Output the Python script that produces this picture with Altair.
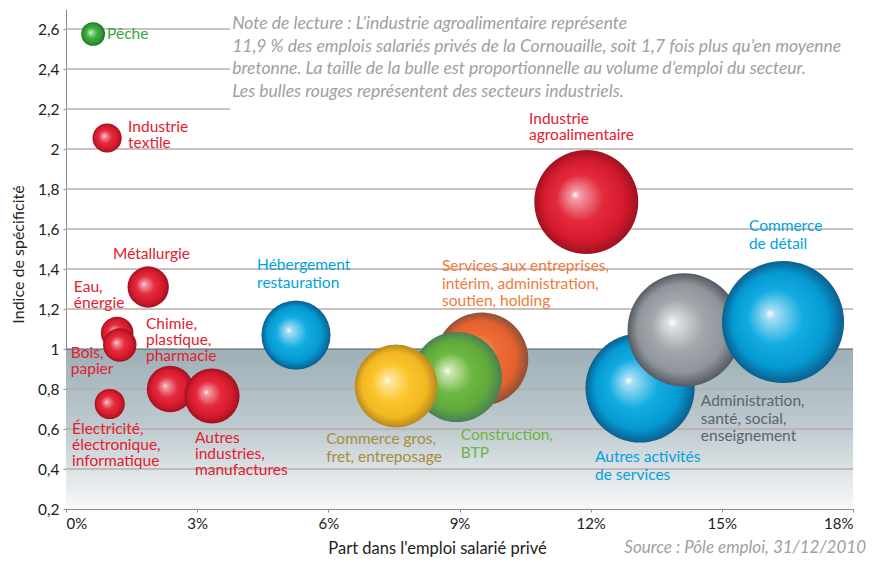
import altair as alt
import pandas as pd

# ---------------- data ----------------
secteurs = [
    "Eau, énergie", "Bois, papier", "Électricité, électronique, informatique",
    "Métallurgie", "Chimie, plastique, pharmacie", "Autres industries, manufactures",
    "Industrie textile", "Pêche", "Hébergement restauration",
    "Services aux entreprises, intérim, administration, soutien, holding",
    "Construction, BTP", "Commerce gros, fret, entreposage",
    "Industrie agroalimentaire", "Autres activités de services",
    "Administration, santé, social, enseignement", "Commerce de détail",
]
part = [1.17, 1.23, 1.00, 1.88, 2.38, 3.34, 0.94, 0.62, 5.26,
        9.51, 8.94, 7.55, 11.9, 13.13, 14.14, 16.4]
indice = [1.08, 1.02, 0.725, 1.31, 0.80, 0.765, 2.055, 2.575, 1.07,
          0.95, 0.86, 0.815, 1.735, 0.805, 1.095, 1.135]
famille = ["rouge", "rouge", "rouge", "rouge", "rouge", "rouge", "rouge", "peche", "bleu",
           "orange", "vert", "jaune", "rouge", "bleu", "gris", "bleu"]

label_texte = [
    "Pêche", "Industrie\ntextile", "Métallurgie", "Eau,\nénergie",
    "Chimie,\nplastique,\npharmacie", "Bois,\npapier",
    "Électricité,\nélectronique,\ninformatique", "Autres\nindustries,\nmanufactures",
    "Industrie\nagroalimentaire",
    "Hébergement\nrestauration",
    "Services aux entreprises,\nintérim, administration,\nsoutien, holding",
    "Commerce gros,\nfret, entreposage", "Construction,\nBTP",
    "Autres activités\nde services", "Administration,\nsanté, social,\nenseignement",
    "Commerce\nde détail",
]
label_x = [0.94, 1.42, 1.075, 0.18, 1.83, 0.11, 0.14, 2.95, 10.59,
           4.37, 8.6, 5.95, 9.03, 12.1, 14.52, 15.62]
label_y = [2.61, 2.145, 1.51, 1.345, 1.16, 1.015, 0.635, 0.59, 2.185,
           1.455, 1.45, 0.585, 0.605, 0.495, 0.775, 1.65]
label_famille = ["peche", "rouge", "rouge", "rouge", "rouge", "rouge", "rouge", "rouge", "rouge",
                 "bleu", "orange", "jaune", "vert", "bleu", "gris", "bleu"]

grille_y = [0.4, 0.6, 0.8, 1.2, 1.4, 1.6, 1.8, 2.0, 2.2, 2.4, 2.6]
grille_fin = [18, 18, 18, 18, 18, 18, 18, 18, 3.75, 3.75, 3.75]

x_ticks = [0, 3, 6, 9, 12, 15, 18]
y_ticks = [0.2, 0.4, 0.6, 0.8, 1.0, 1.2, 1.4, 1.6, 1.8, 2.0, 2.2, 2.4, 2.6]

note = ("Note de lecture : L’industrie agroalimentaire représente\n"
        "11,9 % des emplois salariés privés de la Cornouaille, soit 1,7 fois plus qu’en moyenne\n"
        "bretonne. La taille de la bulle est proportionnelle au volume d’emploi du secteur.\n"
        "Les bulles rouges représentent des secteurs industriels.")
source = "Source : Pôle emploi, 31/12/2010"

# ---------------- styles ----------------
FONT = "Lato"
sphere_stops = {
    "rouge": ["#ffffff", "#f2a0aa", "#e42a3c", "#d41a2c", "#9e1220"],
    "peche": ["#ffffff", "#b6e0b0", "#3fae40", "#2f9a35", "#1f6e26"],
    "bleu": ["#ffffff", "#a6def4", "#12ace2", "#0599d2", "#0b5f8f"],
    "orange": ["#ffffff", "#f7c0a0", "#f06c35", "#e4612e", "#8e4f3a"],
    "vert": ["#ffffff", "#cfe8b5", "#6db842", "#5fa83c", "#4b7f55"],
    "jaune": ["#ffffff", "#fde7a0", "#fbc52c", "#f2b722", "#b8891c"],
    "gris": ["#ffffff", "#dfe2e5", "#a2a7ac", "#8f959b", "#545a60"],
}
offsets = [0.0, 0.08, 0.45, 0.78, 1.0]

text_colors = {
    "rouge": "#e2202e", "peche": "#36a939", "bleu": "#00a2dd", "orange": "#f07a3a",
    "jaune": "#a88c3c", "vert": "#6bb542", "gris": "#5c646b",
}

xscale = alt.Scale(domain=[0, 18], nice=False, zero=False)
yscale = alt.Scale(domain=[0.2, 2.7], nice=False, zero=False)

xaxis = alt.Axis(
    values=x_ticks, labelExpr="datum.value + '%'", grid=False,
    domainColor="#8c8c8c", tickColor="#8c8c8c", tickSize=3,
    labelFont=FONT, labelFontSize=15, labelColor="#222222", labelPadding=4,
    title="Part dans l'emploi salarié privé", titleFont=FONT, titleFontSize=16.5,
    titleFontWeight="normal", titleColor="#222222",
    titleX=371, titleY=39, titleAlign="center", titleBaseline="middle",
)
yaxis = alt.Axis(
    values=y_ticks, labelExpr="replace(format(datum.value, '.1~f'), '.', ',')", grid=False,
    domainColor="#8c8c8c", tickColor="#8c8c8c", tickSize=3,
    labelFont=FONT, labelFontSize=15.5, labelColor="#222222", labelPadding=4,
    title="Indice de spécificité", titleFont=FONT, titleFontSize=16,
    titleFontWeight="normal", titleColor="#222222",
    titleX=-48, titleY=245, titleAngle=-90, titleAlign="center", titleBaseline="middle",
)


def X(field):
    return alt.X(field, type="quantitative", scale=xscale, axis=xaxis)


def Y(field):
    return alt.Y(field, type="quantitative", scale=yscale, axis=yaxis)


# ---------------- layers ----------------
shade_df = pd.DataFrame({"x0": [0], "x1": [18], "y0": [0.2], "y1": [1.0]})
shade = alt.Chart(shade_df).mark_rect(
    fill={"gradient": "linear", "x1": 0, "y1": 0, "x2": 0, "y2": 1,
          "stops": [{"offset": 0, "color": "#9dafb7"},
                    {"offset": 0.5, "color": "#bfcbd0"},
                    {"offset": 0.85, "color": "#e7ebed"},
                    {"offset": 1, "color": "#f8f9fa"}]}
).encode(x=X("x0"), x2="x1", y=Y("y0"), y2="y1")

grid_df = pd.DataFrame({"y": grille_y, "x0": [0] * len(grille_y), "x1": grille_fin})
grid = alt.Chart(grid_df).mark_rule(color="#b8aca8", strokeWidth=1.3).encode(
    x=X("x0"), x2="x1", y=Y("y"))

one_df = pd.DataFrame({"y": [1.0], "x0": [0], "x1": [18]})
one_line = alt.Chart(one_df).mark_rule(color="#555b60", strokeWidth=1.2).encode(
    x=X("x0"), x2="x1", y=Y("y"))

bub_df = pd.DataFrame({"secteur": secteurs, "part": part, "indice": indice, "famille": famille})
size = alt.Size("part:Q", scale=alt.Scale(domain=[0, 18], range=[0, 16353], zero=True), legend=None)

bubbles = []
for s, f in zip(secteurs, famille):
    grad = {"gradient": "radial", "x1": 0.39, "y1": 0.43, "r1": 0,
            "x2": 0.5, "y2": 0.5, "r2": 0.5,
            "stops": [{"offset": o, "color": c} for o, c in zip(offsets, sphere_stops[f])]}
    bubbles.append(
        alt.Chart(bub_df).transform_filter(alt.datum.secteur == s)
        .mark_circle(fill=grad, opacity=1, fillOpacity=1, strokeWidth=0)
        .encode(x=X("part"), y=Y("indice"), size=size)
    )

lab_df = pd.DataFrame({"t": label_texte, "lx": label_x, "ly": label_y, "fam": label_famille})
color_enc = alt.Color("fam:N", scale=alt.Scale(domain=list(text_colors.keys()),
                                               range=list(text_colors.values())), legend=None)
lab_ind = alt.Chart(lab_df).transform_filter(
    alt.FieldOneOfPredicate(field="fam", oneOf=["rouge", "peche"])
).mark_text(align="left", baseline="top", font=FONT, fontSize=15.5, lineBreak="\n",
            lineHeight=16).encode(x=X("lx"), y=Y("ly"), text="t:N", color=color_enc)
lab_srv = alt.Chart(lab_df).transform_filter(
    alt.FieldOneOfPredicate(field="fam", oneOf=["bleu", "orange", "jaune", "vert", "gris"])
).mark_text(align="left", baseline="top", font=FONT, fontSize=15.5, lineBreak="\n",
            lineHeight=17.5).encode(x=X("lx"), y=Y("ly"), text="t:N", color=color_enc)

note_df = pd.DataFrame({"x": [3.8], "y": [2.67], "t": [note]})
note_layer = alt.Chart(note_df).mark_text(
    align="left", baseline="top", font=FONT, fontSize=17.5, fontStyle="italic",
    color="#a0a0a0", lineBreak="\n", lineHeight=22.7
).encode(x=X("x"), y=Y("y"), text="t:N")

src_df = pd.DataFrame({"t": [source]})
src_layer = alt.Chart(src_df).mark_text(
    align="right", baseline="middle", font=FONT, fontSize=17, fontStyle="italic",
    color="#a0a0a0"
).encode(x=alt.value(800), y=alt.value(539), text="t:N")

chart = alt.layer(
    shade, grid, one_line, *bubbles, lab_ind, lab_srv, note_layer, src_layer
).properties(
    width=787, height=500,
    autosize=alt.AutoSizeParams(type="none"),
    padding={"left": 58, "top": 1, "right": 24, "bottom": 48},
).configure(background="white").configure_view(stroke=None)

chart.save("out.html", embed_options={"renderer": "svg", "actions": False})
